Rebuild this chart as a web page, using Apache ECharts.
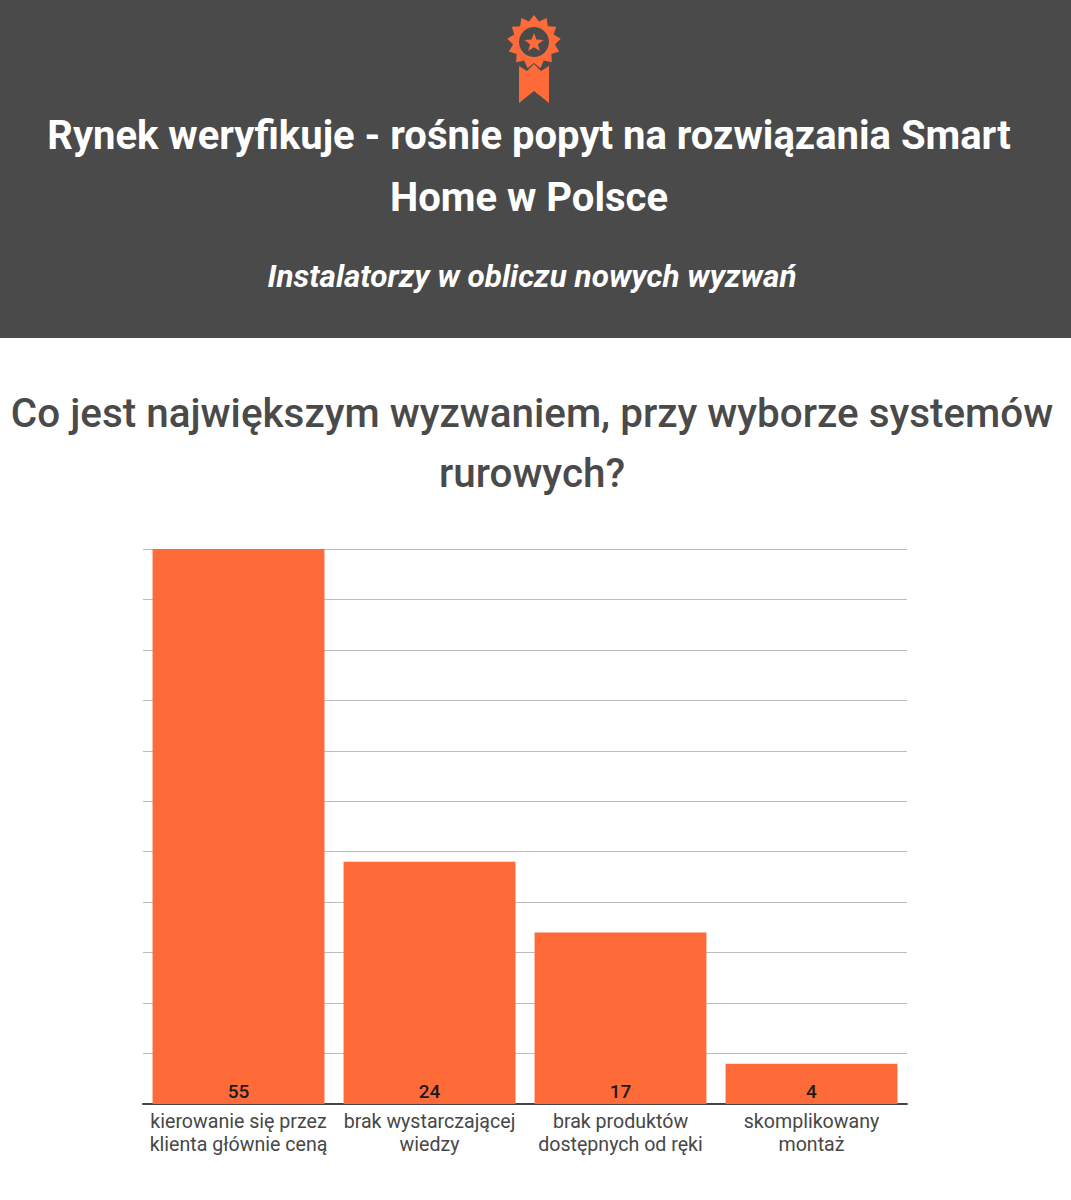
<!DOCTYPE html>
<html>
<head>
<meta charset="utf-8">
<script src="https://cdn.jsdelivr.net/npm/echarts@6/dist/echarts.min.js"></script>
<style>
  html, body { margin: 0; padding: 0; background: #fff; }
  #main { width: 1071px; height: 1200px; }
</style>
</head>
<body>
<div id="main"></div>
<script>
// data
const categories = [
  'kierowanie się przez\nklienta głównie ceną',
  'brak wystarczającej\nwiedzy',
  'brak produktów\ndostępnych od ręki',
  'skomplikowany\nmontaż'
];
const values = [55, 24, 17, 4];
const yMax = 55;
const yStep = 5;

const orange = '#ff6a39';
const dark = '#4a4a4a';

// badge icon points
function starPoints(cx, cy, n, rOut, rIn, rot) {
  const pts = [];
  for (let i = 0; i < n * 2; i++) {
    const r = i % 2 === 0 ? rOut : rIn;
    const a = rot + Math.PI * i / n;
    pts.push([cx + r * Math.sin(a), cy - r * Math.cos(a)]);
  }
  return pts;
}
const bx = 534, by = 42;

const chart = echarts.init(document.getElementById('main'), null, { renderer: 'svg' });
chart.setOption({
  animation: false,
  backgroundColor: '#fff',
  textStyle: { fontFamily: 'Roboto' },
  graphic: [
    { type: 'rect', shape: { x: 0, y: 0, width: 1071, height: 338 }, style: { fill: dark }, z: 0 },
    { type: 'polygon', shape: { points: [[519, 58], [549, 58], [549, 103], [534, 91], [519, 103]] }, style: { fill: orange }, z: 1 },
    { type: 'polygon', shape: { points: [[519, 66], [527, 71], [534, 64], [541, 71], [549, 66], [549, 58], [519, 58]] }, style: { fill: dark }, z: 1 },
    { type: 'polygon', shape: { points: starPoints(bx, by, 13, 27, 21, 0) }, style: { fill: orange }, z: 2 },
    { type: 'circle', shape: { cx: bx, cy: by, r: 15 }, style: { fill: dark }, z: 3 },
    { type: 'polygon', shape: { points: starPoints(bx, by + 1, 5, 10, 4.2, 0) }, style: { fill: orange }, z: 4 },
    {
      type: 'text', x: 529, y: 104, z: 5,
      style: {
        text: 'Rynek weryfikuje - rośnie popyt na rozwiązania Smart\nHome w Polsce',
        fill: '#fff', font: 'bold 40px Roboto', lineHeight: 62,
        align: 'center', verticalAlign: 'top'
      }
    },
    {
      type: 'text', x: 532, y: 260, z: 5,
      style: {
        text: 'Instalatorzy w obliczu nowych wyzwań',
        fill: '#fff', font: 'italic bold 31.5px Roboto',
        align: 'center', verticalAlign: 'top'
      }
    },
    {
      type: 'text', x: 532, y: 383, z: 5,
      style: {
        text: 'Co jest największym wyzwaniem, przy wyborze systemów\nrurowych?',
        fill: dark, font: '500 40.4px Roboto', lineHeight: 60,
        align: 'center', verticalAlign: 'top'
      }
    }
  ],
  grid: { left: 143, right: 164, top: 549, bottom: 96 },
  xAxis: {
    type: 'category',
    data: categories,
    axisLine: { lineStyle: { color: '#444', width: 2 } },
    axisTick: { show: false },
    axisLabel: { color: '#474747', fontSize: 19.6, lineHeight: 23, margin: 6, interval: 0 }
  },
  yAxis: {
    type: 'value',
    min: 0,
    max: yMax,
    interval: yStep,
    axisLabel: { show: false },
    axisLine: { show: false },
    axisTick: { show: false },
    splitLine: { lineStyle: { color: '#bdbdbd', width: 1 } }
  },
  series: [{
    type: 'bar',
    data: values,
    barCategoryGap: '10%',
    itemStyle: { color: orange },
    label: {
      show: true,
      position: 'insideBottom',
      distance: 3,
      color: '#1a1a1a',
      fontSize: 19,
      fontWeight: 500
    }
  }]
});
</script>
</body>
</html>
